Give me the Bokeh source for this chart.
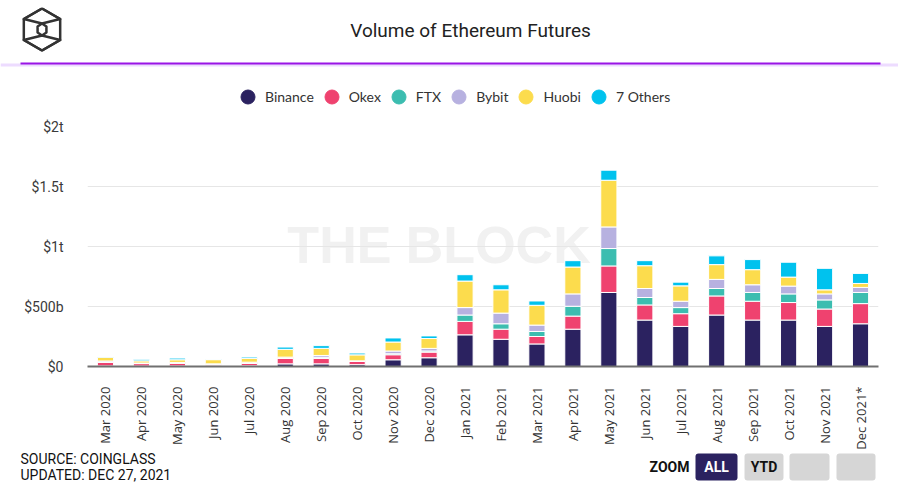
import math
from bokeh.plotting import figure
from bokeh.layouts import column, row
from bokeh.models import (ColumnDataSource, FactorRange, Range1d, FixedTicker,
                          Legend, LegendItem)
from bokeh.core.properties import value
from bokeh.embed import file_html
from bokeh.resources import INLINE

# ---------------- data (billions USD) ----------------
months = ["Mar 2020", "Apr 2020", "May 2020", "Jun 2020", "Jul 2020", "Aug 2020",
          "Sep 2020", "Oct 2020", "Nov 2020", "Dec 2020", "Jan 2021", "Feb 2021",
          "Mar 2021", "Apr 2021", "May 2021", "Jun 2021", "Jul 2021", "Aug 2021",
          "Sep 2021", "Oct 2021", "Nov 2021", "Dec 2021*"]
binance = [5, 4, 5, 5, 6, 22, 22, 15, 56, 73, 264, 227, 188, 311, 617, 387, 334, 429, 387, 387, 334, 356]
okex = [30, 20, 22, 8, 20, 45, 45, 28, 42, 47, 112, 84, 62, 109, 221, 126, 106, 159, 157, 146, 145, 168]
ftx = [3, 2, 3, 6, 3, 4, 10, 2, 8, 9, 53, 45, 42, 82, 145, 62, 51, 62, 73, 72, 76, 93]
bybit = [8, 3, 4, 3, 7, 7, 15, 2, 23, 22, 62, 89, 53, 103, 180, 75, 53, 76, 64, 65, 50, 42]
huobi = [32, 18, 22, 35, 32, 65, 59, 50, 75, 82, 221, 194, 165, 224, 389, 190, 128, 123, 126, 75, 34, 33]
others = [2, 13, 14, 3, 11, 19, 23, 15, 34, 22, 53, 42, 36, 53, 84, 42, 31, 73, 84, 124, 179, 84]

series_keys = ["binance", "okex", "ftx", "bybit", "huobi", "others"]
series_labels = ["Binance", "Okex", "FTX", "Bybit", "Huobi", "7 Others"]
colors = ["#2b2260", "#ef426f", "#3cbdb0", "#b7b1e0", "#fcdc4d", "#00c2ee"]

y_ticks = [0, 500, 1000, 1500, 2000]
y_tick_labels = ["$0", "$500b", "$1t", "$1.5t", "$2t"]

title_text = "Volume of Ethereum Futures"
watermark_text = "THE BLOCK"
source_lines = ["SOURCE: COINGLASS", "UPDATED: DEC 27, 2021"]
zoom_labels = ["ALL", "YTD", "", ""]

W = 898
H_HEAD, H_MAIN = 118, 334
H_FOOT = 493 - H_HEAD - H_MAIN


def blank_fig(h, y0):
    f = figure(width=W, height=h, x_range=Range1d(0, W), y_range=Range1d(y0 + h, y0),
               output_backend="svg", toolbar_location=None, x_axis_type=None,
               y_axis_type=None, min_border=0)
    f.outline_line_color = None
    f.grid.visible = False
    return f


# ---------------- header ----------------
head = blank_fig(H_HEAD, 0)
cx, cy, R, r = 41.5, 29, 21, 6
def hexagon(cx, cy, R, sx=1.0):
    return [(cx + sx * R * math.sin(math.radians(a)), cy - R * math.cos(math.radians(a)))
            for a in (0, 60, 120, 180, 240, 300)]
outer = hexagon(cx, cy, R)
inner = hexagon(cx, cy, r, 0.85)
top_face = [outer[0], outer[1], inner[0], outer[5]]
bot_face = [outer[3], outer[2], inner[3], outer[4]]
polys = [outer, inner, top_face, bot_face]
head.multi_line(xs=[[a for a, b in pl] + [pl[0][0]] for pl in polys],
                ys=[[b for a, b in pl] + [pl[0][1]] for pl in polys],
                line_color="#333333", line_width=2.5, line_join="round")
head.text(x=[470], y=[30], text=[title_text], text_font=value("Roboto"),
          text_font_size="19px", text_color="#222222", text_align="center",
          text_baseline="middle")
head.quad(left=[0], right=[W], top=[63], bottom=[66], fill_color="#eddcff", line_color=None)
head.quad(left=[20], right=[880], top=[62], bottom=[64], fill_color="#9a14e6", line_color=None)

items = []
for lab, c in zip(series_labels, colors):
    rr = head.scatter(x=[float("nan")], y=[float("nan")], marker="circle", size=14, color=c)
    items.append(LegendItem(label=lab, renderers=[rr]))
legend = Legend(items=items, orientation="horizontal", location=(230, 4),
                glyph_width=35, glyph_height=35, label_standoff=0, spacing=-2,
                padding=0, margin=0, border_line_color=None, background_fill_alpha=0,
                label_text_font="Lato", label_text_font_size="14px",
                label_text_color="#333333")
head.add_layout(legend, "center")

# ---------------- main chart ----------------
src = ColumnDataSource(dict(month=months, binance=binance, okex=okex, ftx=ftx,
                            bybit=bybit, huobi=huobi, others=others))

p = figure(width=W, height=H_MAIN, x_range=FactorRange(*months, range_padding=0),
           y_range=Range1d(0, 2000), output_backend="svg", toolbar_location=None,
           min_border_left=87, min_border_right=20, min_border_top=8,
           min_border_bottom=H_MAIN - 8 - 240)
p.outline_line_color = None

p.text(x=["Jan 2021"], y=[1010], text=[watermark_text],
       text_font=value("Liberation Sans"), text_font_style="bold", text_font_size="52px",
       text_color="#f1f1f1", text_align="center", text_baseline="middle",
       x_offset=-26, level="underlay")

p.vbar_stack(series_keys, x="month", width=0.45, color=colors, source=src,
             line_color="white", line_width=1)

p.xaxis.major_label_orientation = math.pi / 2
p.xaxis.major_label_text_font = "Open Sans"
p.xaxis.major_label_text_font_size = "13px"
p.xaxis.major_label_text_color = "#333333"
p.xaxis.major_tick_line_color = None
p.xaxis.minor_tick_line_color = None
p.xaxis.major_label_standoff = 14
p.xaxis.axis_line_color = "#707070"
p.xaxis.axis_line_width = 2
p.xgrid.grid_line_color = None

p.yaxis.ticker = FixedTicker(ticks=y_ticks)
p.yaxis.major_label_overrides = {t: l for t, l in zip(y_ticks, y_tick_labels)}
p.yaxis.major_label_text_font = "Roboto"
p.yaxis.major_label_text_font_size = "14px"
p.yaxis.major_label_text_color = "#3a3a3a"
p.yaxis.axis_line_color = None
p.yaxis.major_tick_line_color = None
p.yaxis.minor_tick_line_color = None
p.yaxis.major_label_standoff = 18
p.ygrid.grid_line_color = "#e6e6e6"
p.ygrid.grid_line_width = 1

# ---------------- footer ----------------
y0f = H_HEAD + H_MAIN
foot = blank_fig(H_FOOT, y0f)
foot.text(x=[20, 20], y=[458, 474], text=source_lines, text_font=value("Roboto"),
          text_font_size="14px", text_color="#111111", text_baseline="middle")
foot.text(x=[689], y=[466], text=["ZOOM"], text_font=value("Roboto"), text_font_size="14px",
          text_font_style="bold", text_color="#111111", text_align="right",
          text_baseline="middle")
btn_left = [695, 744, 789, 836]
btn_right = [737, 783, 829, 875]
btn_fill = ["#2b2260", "#d6d6d6", "#d6d6d6", "#d6d6d6"]
foot.quad(left=btn_left, right=btn_right, top=[453] * 4, bottom=[480] * 4,
          fill_color=btn_fill, line_color=None, border_radius=3)
foot.text(x=[(a + b) / 2 for a, b in zip(btn_left, btn_right)], y=[466] * 4, text=zoom_labels,
          text_font=value("Roboto"), text_font_size="14px", text_font_style="bold",
          text_color=["white", "#111111", "#111111", "#111111"], text_align="center",
          text_baseline="middle")

layout = column(row(head), p, row(foot), spacing=0)
open("out.html", "w").write(file_html(layout, INLINE))
